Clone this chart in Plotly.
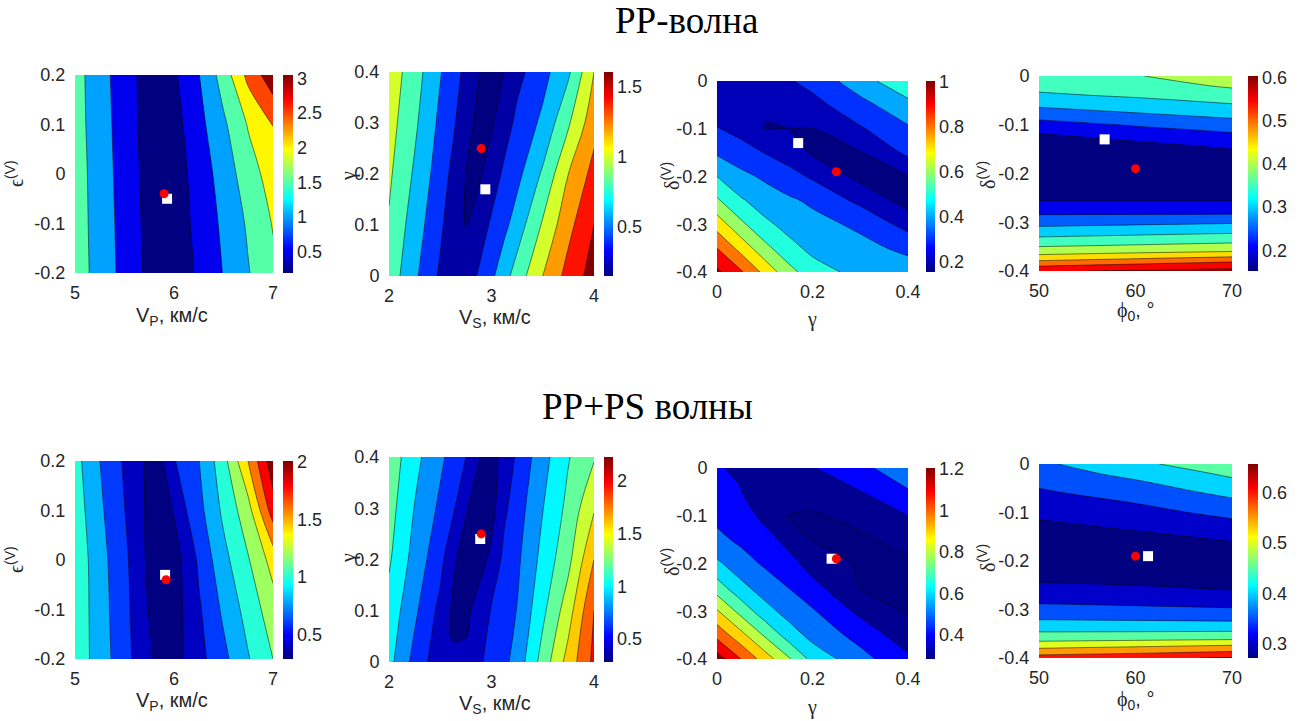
import plotly.graph_objects as go

W, H = 1298, 721

# ---------------- data ----------------
# Panel 1 (PP-wave): misfit over V_P (km/s) and eps(V)
p1_x = [5.0, 5.25, 5.5, 5.75, 6.0, 6.25, 6.5, 6.75, 7.0]
p1_y = [-0.2, -0.1, 0.0, 0.1, 0.2]
p1_z = [
    [1.77, 1.30, 0.84, 0.38, 0.21, 0.57, 1.02, 1.47, 1.90],
    [1.75, 1.28, 0.82, 0.34, 0.23, 0.64, 1.10, 1.57, 2.03],
    [1.74, 1.26, 0.79, 0.31, 0.25, 0.71, 1.22, 1.77, 2.23],
    [1.71, 1.23, 0.76, 0.28, 0.31, 0.84, 1.41, 2.04, 2.51],
    [1.70, 1.20, 0.73, 0.27, 0.42, 0.98, 1.72, 2.64, 3.33],
]
p1_levels = [0.5, 3.0, 0.5]
p1_crange = [0.19, 3.05]
p1_cticks = [0.5, 1, 1.5, 2, 2.5, 3]
p1_true = [5.90, -0.04]
p1_est = [5.93, -0.05]

# Panel 2 (PP-wave): V_S and gamma
p2_x = [2.0, 2.25, 2.5, 2.625, 2.75, 2.875, 3.0, 3.125, 3.25, 3.5, 3.75, 4.0]
p2_y = [0.0, 0.1, 0.2, 0.3, 0.4]
p2_z = [
    [0.922, 0.637, 0.367, 0.257, 0.281, 0.425, 0.560, 0.726, 0.890, 1.200, 1.472, 1.685],
    [0.980, 0.703, 0.438, 0.276, 0.195, 0.276, 0.435, 0.550, 0.695, 1.024, 1.342, 1.600],
    [1.033, 0.772, 0.497, 0.350, 0.199, 0.176, 0.281, 0.442, 0.542, 0.830, 1.200, 1.469],
    [1.079, 0.836, 0.554, 0.431, 0.257, 0.162, 0.178, 0.306, 0.449, 0.643, 0.974, 1.327],
    [1.119, 0.890, 0.613, 0.488, 0.345, 0.207, 0.160, 0.203, 0.337, 0.532, 0.766, 1.200],
]
p2_levels = [0.2, 1.6, 0.2]
p2_crange = [0.148, 1.607]
p2_cticks = [0.5, 1, 1.5]
p2_true = [2.90, 0.25]
p2_est = [2.94, 0.17]

# Panel 3 (PP-wave): gamma and delta(V)
p3_x = [0.0, 0.05, 0.1, 0.15, 0.2, 0.3, 0.4]
p3_y = [-0.4, -0.35, -0.3, -0.25, -0.2, -0.15, -0.1, -0.05, 0.0]
p3_z = [
    [1.020, 0.914, 0.771, 0.637, 0.542, 0.470, 0.450],
    [0.900, 0.765, 0.630, 0.532, 0.476, 0.431, 0.376],
    [0.757, 0.622, 0.522, 0.467, 0.434, 0.379, 0.263],
    [0.614, 0.512, 0.451, 0.416, 0.382, 0.275, 0.160],
    [0.500, 0.426, 0.384, 0.337, 0.286, 0.172, 0.195],
    [0.386, 0.343, 0.297, 0.252, 0.185, 0.195, 0.321],
    [0.306, 0.266, 0.198, 0.198, 0.199, 0.289, 0.386],
    [0.244, 0.206, 0.205, 0.245, 0.266, 0.368, 0.470],
    [0.230, 0.240, 0.260, 0.290, 0.334, 0.457, 0.580],
]
p3_levels = [0.2, 1.0, 0.1]
p3_crange = [0.153, 1.004]
p3_cticks = [0.2, 0.4, 0.6, 0.8, 1]
p3_true = [0.25, -0.19]
p3_est = [0.17, -0.13]

# Panel 4 (PP-wave): phi0 and delta(V)
p4_x = [50, 60, 70]
p4_y = [-0.4, -0.39, -0.38, -0.37, -0.36, -0.34, -0.32, -0.3, -0.28, -0.26, -0.23,
        -0.19, -0.16, -0.14, -0.12, -0.1, -0.08, -0.06, -0.04, -0.02, 0.0]
p4_z = [
    [0.595, 0.605, 0.615],
    [0.550, 0.569, 0.582],
    [0.505, 0.524, 0.545],
    [0.463, 0.478, 0.495],
    [0.427, 0.439, 0.450],
    [0.373, 0.382, 0.393],
    [0.326, 0.335, 0.343],
    [0.281, 0.287, 0.294],
    [0.241, 0.241, 0.241],
    [0.204, 0.204, 0.204],
    [0.174, 0.174, 0.174],
    [0.160, 0.162, 0.166],
    [0.166, 0.174, 0.187],
    [0.178, 0.191, 0.213],
    [0.197, 0.220, 0.243],
    [0.230, 0.255, 0.277],
    [0.270, 0.292, 0.312],
    [0.308, 0.327, 0.345],
    [0.342, 0.356, 0.377],
    [0.365, 0.377, 0.407],
    [0.385, 0.397, 0.430],
]
p4_levels = [0.2, 0.6, 0.05]
p4_crange = [0.152, 0.604]
p4_cticks = [0.2, 0.3, 0.4, 0.5, 0.6]
p4_true = [60.0, -0.19]
p4_est = [56.8, -0.13]

# Panel 5 (PP+PS): V_P and eps(V)
p5_x = [5.0, 5.25, 5.5, 5.625, 5.75, 5.875, 6.0, 6.125, 6.25, 6.5, 6.75, 7.0]
p5_y = [-0.2, -0.1, 0.0, 0.1, 0.2]
p5_z = [
    [1.130, 0.907, 0.671, 0.551, 0.437, 0.319, 0.316, 0.428, 0.534, 0.746, 0.985, 1.20],
    [1.140, 0.892, 0.657, 0.528, 0.388, 0.305, 0.322, 0.436, 0.571, 0.838, 1.079, 1.31],
    [1.145, 0.875, 0.647, 0.501, 0.352, 0.301, 0.331, 0.455, 0.634, 0.938, 1.185, 1.48],
    [1.109, 0.839, 0.604, 0.480, 0.353, 0.313, 0.412, 0.599, 0.734, 1.041, 1.323, 1.90],
    [1.072, 0.802, 0.575, 0.469, 0.350, 0.376, 0.586, 0.693, 0.792, 1.125, 1.605, 2.13],
]
p5_levels = [0.4, 2.0, 0.2]
p5_crange = [0.289, 2.009]
p5_cticks = [0.5, 1, 1.5, 2]
p5_true = [5.92, -0.04]
p5_est = [5.91, -0.03]

# Panel 6 (PP+PS): V_S and gamma
p6_x = [2.0, 2.25, 2.5, 2.625, 2.75, 2.875, 3.0, 3.125, 3.25, 3.5, 3.75, 4.0]
p6_y = [0.0, 0.1, 0.2, 0.3, 0.4]
p6_z = [
    [1.062, 0.735, 0.470, 0.421, 0.449, 0.566, 0.668, 0.754, 0.878, 1.281, 1.680, 2.05],
    [1.128, 0.839, 0.544, 0.369, 0.348, 0.483, 0.615, 0.709, 0.807, 1.154, 1.512, 2.00],
    [1.226, 0.925, 0.662, 0.436, 0.312, 0.315, 0.450, 0.655, 0.760, 1.063, 1.347, 1.80],
    [1.282, 0.992, 0.760, 0.630, 0.419, 0.296, 0.330, 0.5625, 0.706, 0.994, 1.255, 1.58],
    [1.329, 1.060, 0.841, 0.725, 0.600, 0.408, 0.333, 0.464, 0.633, 0.925, 1.187, 1.38],
]
p6_levels = [0.4, 2.2, 0.2]
p6_crange = [0.28, 2.23]
p6_cticks = [0.5, 1, 1.5, 2]
p6_true = [2.90, 0.25]
p6_est = [2.89, 0.24]

# Panel 7 (PP+PS): gamma and delta(V)
p7_x = [0.0, 0.05, 0.1, 0.15, 0.2, 0.3, 0.4]
p7_y = [-0.4, -0.35, -0.3, -0.25, -0.2, -0.15, -0.1, -0.05, 0.0]
p7_z = [
    [1.250, 1.100, 0.954, 0.814, 0.669, 0.535, 0.420],
    [1.071, 0.933, 0.788, 0.654, 0.567, 0.466, 0.342],
    [0.911, 0.766, 0.640, 0.560, 0.511, 0.377, 0.292],
    [0.746, 0.629, 0.551, 0.498, 0.433, 0.298, 0.285],
    [0.619, 0.540, 0.487, 0.435, 0.361, 0.285, 0.290],
    [0.525, 0.481, 0.436, 0.371, 0.297, 0.289, 0.323],
    [0.475, 0.443, 0.377, 0.299, 0.293, 0.320, 0.400],
    [0.441, 0.405, 0.308, 0.318, 0.330, 0.397, 0.491],
    [0.410, 0.380, 0.350, 0.370, 0.395, 0.476, 0.560],
]
p7_levels = [0.3, 1.2, 0.1]
p7_crange = [0.284, 1.205]
p7_cticks = [0.4, 0.6, 0.8, 1, 1.2]
p7_true = [0.25, -0.19]
p7_est = [0.24, -0.19]

# Panel 8 (PP+PS): phi0 and delta(V)
p8_x = [50, 60, 70]
p8_y = [-0.4, -0.39, -0.38, -0.37, -0.36, -0.34, -0.32, -0.3, -0.28, -0.26, -0.24,
        -0.2, -0.16, -0.14, -0.12, -0.1, -0.08, -0.06, -0.04, -0.02, 0.0]
p8_z = [
    [0.625, 0.640, 0.655],
    [0.586, 0.598, 0.613],
    [0.550, 0.5625, 0.575],
    [0.514, 0.523, 0.535],
    [0.483, 0.487, 0.491],
    [0.435, 0.435, 0.436],
    [0.398, 0.395, 0.391],
    [0.366, 0.361, 0.355],
    [0.339, 0.333, 0.327],
    [0.316, 0.309, 0.300],
    [0.296, 0.291, 0.287],
    [0.277, 0.277, 0.281],
    [0.277, 0.286, 0.300],
    [0.284, 0.298, 0.321],
    [0.296, 0.315, 0.342],
    [0.312, 0.333, 0.364],
    [0.327, 0.351, 0.388],
    [0.342, 0.371, 0.412],
    [0.358, 0.391, 0.437],
    [0.374, 0.415, 0.459],
    [0.390, 0.440, 0.480],
]
p8_levels = [0.3, 0.65, 0.05]
p8_crange = [0.272, 0.656]
p8_cticks = [0.3, 0.4, 0.5, 0.6]
p8_true = [60.0, -0.19]
p8_est = [61.3, -0.19]

titles = ["PP-волна", "PP+PS волны"]

# ---------------- helpers ----------------
def jet_rgb(t):
    t = min(max(t, 0.0), 1.0)
    cl = lambda v: min(max(v, 0.0), 1.0)
    r = cl(min(4 * t - 1.5, -4 * t + 4.5))
    g = cl(min(4 * t - 0.5, -4 * t + 3.5))
    b = cl(min(4 * t + 0.5, -4 * t + 2.5))
    return "rgb(%d,%d,%d)" % (round(r * 255), round(g * 255), round(b * 255))


def band_colorscale(levels, crange):
    start, end, size = levels
    cmin, cmax = crange
    n = int(round((end - start) / size)) + 1
    lows = [cmin] + [start + k * size for k in range(n)]
    return [[j / n, jet_rgb((lows[j] - cmin) / (cmax - cmin))] for j in range(n + 1)]


cont_scale = [[k / 64, jet_rgb(k / 64)] for k in range(65)]


def fmt(v):
    return "%g" % v


TICKFONT = dict(family="Liberation Sans, Arial, sans-serif", size=18, color="#262626")
LABFONT = dict(family="Liberation Sans, Arial, sans-serif", size=20, color="#262626")
SERIF = "Liberation Serif, Times New Roman, serif"

# layout boxes in pixels (left, top, right, bottom, colorbar left, colorbar width)
boxes = [
    (75, 75, 273, 273, 283, 10),
    (389, 72, 594, 276, 604, 9),
    (717, 81, 908, 272, 926, 9),
    (1039, 76, 1232, 271, 1248, 10),
    (75, 461, 273, 659, 283, 10),
    (389, 457, 594, 662, 604, 9),
    (717, 468, 908, 659, 926, 9),
    (1039, 464, 1232, 658, 1248, 10),
]

eps_lab = '<span style="font-family:%s">ϵ</span><sup>(V)</sup>' % SERIF
gam_lab = '<span style="font-family:%s">γ</span>' % SERIF
del_lab = '<span style="font-family:%s">δ</span><sup>(V)</sup>' % SERIF
phi_lab = '<span style="font-family:%s">ϕ</span><sub>0</sub>, °' % SERIF
vp_lab = "V<sub>P</sub>, км/с"
vs_lab = "V<sub>S</sub>, км/с"

panels = [
    dict(x=p1_x, y=p1_y, z=p1_z, lv=p1_levels, cr=p1_crange, ct=p1_cticks, tr=p1_true, es=p1_est,
         xr=[5, 7], xt=[5, 6, 7], yr=[-0.2, 0.2], yt=[-0.2, -0.1, 0, 0.1, 0.2],
         xl=vp_lab, yl=eps_lab, xlp=(172, 316), ylp=(14, 174)),
    dict(x=p2_x, y=p2_y, z=p2_z, lv=p2_levels, cr=p2_crange, ct=p2_cticks, tr=p2_true, es=p2_est,
         xr=[2, 4], xt=[2, 3, 4], yr=[0, 0.4], yt=[0, 0.1, 0.2, 0.3, 0.4],
         xl=vs_lab, yl=gam_lab, xlp=(495, 318), ylp=(348, 176)),
    dict(x=p3_x, y=p3_y, z=p3_z, lv=p3_levels, cr=p3_crange, ct=p3_cticks, tr=p3_true, es=p3_est,
         xr=[0, 0.4], xt=[0, 0.2, 0.4], yr=[-0.4, 0], yt=[-0.4, -0.3, -0.2, -0.1, 0],
         xl=gam_lab, yl=del_lab, xlp=(812, 319), ylp=(670, 176)),
    dict(x=p4_x, y=p4_y, z=p4_z, lv=p4_levels, cr=p4_crange, ct=p4_cticks, tr=p4_true, es=p4_est,
         xr=[50, 70], xt=[50, 60, 70], yr=[-0.4, 0], yt=[-0.4, -0.3, -0.2, -0.1, 0],
         xl=phi_lab, yl=del_lab, xlp=(1135, 311), ylp=(986, 175)),
    dict(x=p5_x, y=p5_y, z=p5_z, lv=p5_levels, cr=p5_crange, ct=p5_cticks, tr=p5_true, es=p5_est,
         xr=[5, 7], xt=[5, 6, 7], yr=[-0.2, 0.2], yt=[-0.2, -0.1, 0, 0.1, 0.2],
         xl=vp_lab, yl=eps_lab, xlp=(172, 701), ylp=(14, 560)),
    dict(x=p6_x, y=p6_y, z=p6_z, lv=p6_levels, cr=p6_crange, ct=p6_cticks, tr=p6_true, es=p6_est,
         xr=[2, 4], xt=[2, 3, 4], yr=[0, 0.4], yt=[0, 0.1, 0.2, 0.3, 0.4],
         xl=vs_lab, yl=gam_lab, xlp=(495, 704), ylp=(348, 558)),
    dict(x=p7_x, y=p7_y, z=p7_z, lv=p7_levels, cr=p7_crange, ct=p7_cticks, tr=p7_true, es=p7_est,
         xr=[0, 0.4], xt=[0, 0.2, 0.4], yr=[-0.4, 0], yt=[-0.4, -0.3, -0.2, -0.1, 0],
         xl=gam_lab, yl=del_lab, xlp=(812, 707), ylp=(670, 562)),
    dict(x=p8_x, y=p8_y, z=p8_z, lv=p8_levels, cr=p8_crange, ct=p8_cticks, tr=p8_true, es=p8_est,
         xr=[50, 70], xt=[50, 60, 70], yr=[-0.4, 0], yt=[-0.4, -0.3, -0.2, -0.1, 0],
         xl=phi_lab, yl=del_lab, xlp=(1135, 700), ylp=(986, 558)),
]

fig = go.Figure()
layout = dict(
    width=W, height=H, margin=dict(l=0, r=0, t=0, b=0, autoexpand=False),
    paper_bgcolor="white", plot_bgcolor="white", showlegend=False,
    font=dict(family="Liberation Sans, Arial, sans-serif", color="#262626"),
)
annotations = []

for i, P in enumerate(panels, start=1):
    L, T, R, B, CBX, CBW = boxes[i - 1]
    xa = "x" if i == 1 else "x%d" % i
    ya = "y" if i == 1 else "y%d" % i
    fig.add_trace(go.Contour(
        x=P["x"], y=P["y"], z=P["z"], xaxis=xa, yaxis=ya,
        autocontour=False,
        contours=dict(start=P["lv"][0], end=P["lv"][1], size=P["lv"][2],
                      coloring="fill", showlines=True),
        line=dict(color="black", width=0.5, smoothing=1.0),
        colorscale=band_colorscale(P["lv"], P["cr"]),
        showscale=False, hoverinfo="skip",
    ))
    cmin, cmax = P["cr"]
    fig.add_trace(go.Scatter(
        x=[P["x"][0]], y=[P["y"][0]], xaxis=xa, yaxis=ya, mode="markers",
        marker=dict(size=1, opacity=0, color=[cmin], cmin=cmin, cmax=cmax,
                    colorscale=cont_scale, showscale=True,
                    colorbar=dict(x=CBX / W, xanchor="left", xpad=0, ypad=0,
                                  thickness=CBW, thicknessmode="pixels",
                                  len=(B - T) / H, lenmode="fraction",
                                  y=1 - (T + B) / 2 / H, yanchor="middle",
                                  outlinewidth=0, ticks="",
                                  tickvals=P["ct"], ticktext=[fmt(v) for v in P["ct"]],
                                  tickfont=TICKFONT)),
        hoverinfo="skip", showlegend=False,
    ))
    fig.add_trace(go.Scatter(
        x=[P["es"][0]], y=[P["es"][1]], xaxis=xa, yaxis=ya, mode="markers",
        marker=dict(symbol="square", size=10, color="white", line=dict(width=0)),
        hoverinfo="skip", showlegend=False,
    ))
    fig.add_trace(go.Scatter(
        x=[P["tr"][0]], y=[P["tr"][1]], xaxis=xa, yaxis=ya, mode="markers",
        marker=dict(symbol="circle", size=9, color="red", line=dict(width=0)),
        hoverinfo="skip", showlegend=False,
    ))
    axx = dict(domain=[L / W, R / W], range=P["xr"], anchor=ya,
               tickvals=P["xt"], ticktext=[fmt(v) for v in P["xt"]],
               showgrid=False, zeroline=False, showline=False,
               ticks="outside", ticklen=3, tickcolor="rgba(0,0,0,0)", tickfont=TICKFONT)
    axy = dict(domain=[1 - B / H, 1 - T / H], range=P["yr"], anchor=xa,
               tickvals=P["yt"], ticktext=[fmt(v) for v in P["yt"]],
               showgrid=False, zeroline=False, showline=False,
               ticks="outside", ticklen=5, tickcolor="rgba(0,0,0,0)", tickfont=TICKFONT)
    layout["xaxis" if i == 1 else "xaxis%d" % i] = axx
    layout["yaxis" if i == 1 else "yaxis%d" % i] = axy
    annotations.append(dict(text=P["xl"], x=P["xlp"][0] / W, y=1 - P["xlp"][1] / H,
                            xref="paper", yref="paper", showarrow=False,
                            xanchor="center", yanchor="middle", font=LABFONT))
    annotations.append(dict(text=P["yl"], x=P["ylp"][0] / W, y=1 - P["ylp"][1] / H,
                            xref="paper", yref="paper", showarrow=False, textangle=-90,
                            xanchor="center", yanchor="middle", font=LABFONT))

TITLEFONT = dict(family=SERIF, size=37, color="black")
annotations.append(dict(text=titles[0], x=686 / W, y=1 - 21 / H, xref="paper", yref="paper",
                        showarrow=False, xanchor="center", yanchor="middle", font=TITLEFONT))
annotations.append(dict(text=titles[1], x=647 / W, y=1 - 406 / H, xref="paper", yref="paper",
                        showarrow=False, xanchor="center", yanchor="middle", font=TITLEFONT))
layout["annotations"] = annotations
fig.update_layout(**layout)
fig.write_html("out.html", config={"displayModeBar": False},
               post_script="document.body.style.margin='0px';document.body.style.padding='0px';")
